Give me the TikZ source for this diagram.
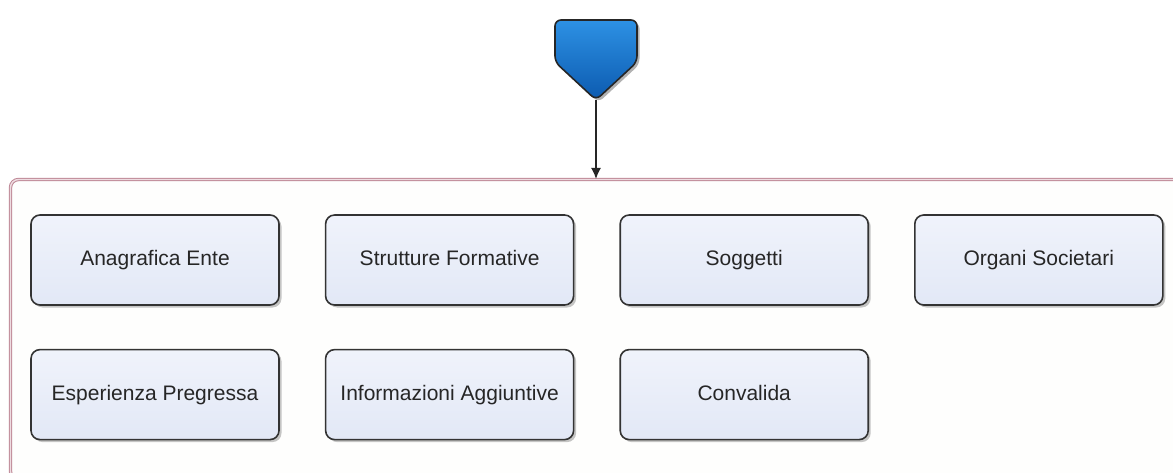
\documentclass[tikz,border=0pt]{standalone}
\usepackage{fontspec}
\setmainfont{Liberation Sans}
\usepackage{tikz}
\usetikzlibrary{arrows.meta,positioning,calc,shadows}
\tikzset{
  >=Stealth,
  every picture/.append style={line width=0.6pt},
}

\begin{document}
\begin{tikzpicture}[
    x=1pt, y=-1pt,
    node distance=43pt and 45pt,
    >=Latex,
    block/.style={
        rectangle,
        draw=black!80,
        line width=1.6pt,
        rounded corners=9pt,
        minimum height=90pt,
        minimum width=248pt,
        align=center,
        inner sep=3pt,
        text height=15pt,
        text depth=4pt,
        top color=boxtop,
        bottom color=boxbottom,
        drop shadow={shadow xshift=2.5pt, shadow yshift=-2.5pt, opacity=0.45},
        font=\fontsize{21}{25}\selectfont,
        text=black!85
    },
    panel/.style={
        rectangle,
        draw=panelpink,
        line width=1pt,
        double=panelinner,
        double distance=1.4pt,
        rounded corners=8pt,
        fill=panelfill,
        minimum width=1173pt,
        minimum height=300pt
    },
    arrow/.style={
        -{Latex[length=11pt,width=10pt]},
        line width=1.6pt,
        draw=black!85
    }
]
% Color definitions
\definecolor{boxtop}{RGB}{240,243,251}
\definecolor{boxbottom}{RGB}{226,232,246}
\definecolor{panelfill}{RGB}{254,254,253}
\definecolor{panelpink}{RGB}{190,136,150}
\definecolor{panelinner}{RGB}{238,220,225}
\definecolor{startblue}{RGB}{45,145,228}
\definecolor{startdark}{RGB}{12,90,175}

\useasboundingbox (0,0) rectangle (1173,473);

% Container
\node[panel, anchor=north west] (group) at (10,179) {};

% Start shape
\fill[black, opacity=0.3, rounded corners=6pt, xshift=2.5pt, yshift=-2.5pt]
  (555,20) -- (637,20) -- (637,62) -- (596,100) -- (555,62) -- cycle;
\draw[draw=black!85, line width=1.6pt, rounded corners=6pt, top color=startblue, bottom color=startdark]
  (555,20) -- (637,20) -- (637,62) -- (596,100) -- (555,62) -- cycle;
\coordinate (start) at (596,100);

% Nodes
\node[block] (anagrafica) at (155,260) {Anagrafica Ente};
\node[block, right=of anagrafica] (strutture) {Strutture Formative};
\node[block, right=of strutture] (soggetti) {Soggetti};
\node[block, right=of soggetti] (organi) {Organi Societari};
\node[block, below=of anagrafica] (esperienza) {Esperienza Pregressa};
\node[block, below=of strutture] (informazioni) {Informazioni Aggiuntive};
\node[block, below=of soggetti] (convalida) {Convalida};

% Arrows
\draw[arrow] (start) -- (start |- group.north);

\end{tikzpicture}
\end{document}
